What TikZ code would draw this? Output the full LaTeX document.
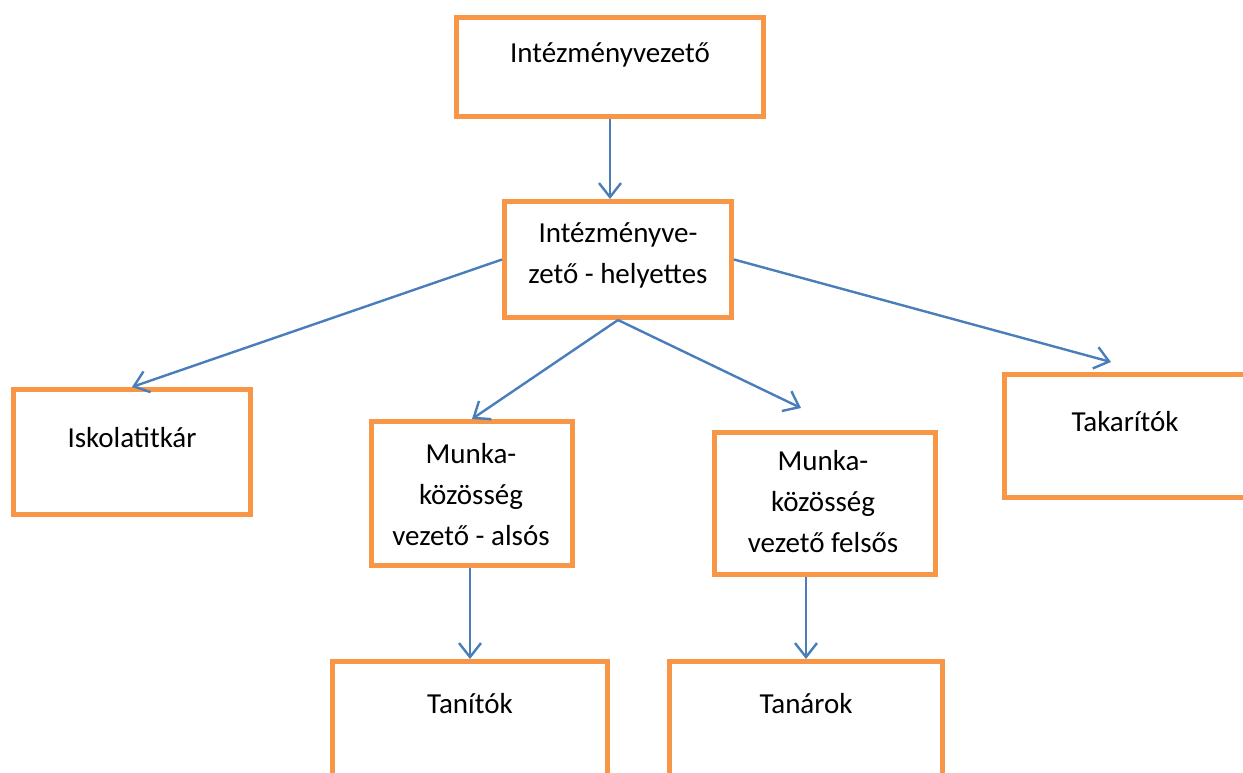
\documentclass[tikz,border=0pt]{standalone}
\usepackage{fontspec}
\setmainfont{Carlito}
\usepackage{tikz}
\usetikzlibrary{positioning, arrows.meta}

\definecolor{boxorange}{HTML}{F79646}
\definecolor{lineblue}{HTML}{4A7EBB}

\begin{document}
\begin{tikzpicture}[x=0.5pt, y=-0.5pt,
        box/.style={draw=boxorange, line width=2.5pt, rectangle, inner sep=0pt},
        txt/.style={anchor=base, align=center, inner sep=0pt, font=\fontsize{14.5}{20.5}\selectfont},
        arr/.style={draw=lineblue, line width=1.2pt, -{Straight Barb[length=7pt, width=11pt, line width=1.2pt]}}]
            \useasboundingbox (0, 0) rectangle (1243, 772);
            \clip (0, 0) rectangle (1243, 772);

            \node[box, minimum width=153.5pt, minimum height=49.5pt] (vezeto) at (610, 67) {};
            \node[box, minimum width=113.5pt, minimum height=58pt] (helyettes) at (618, 259.5) {};
            \node[box, minimum width=118.5pt, minimum height=62.5pt] (titkar) at (132, 452) {};
            \node[box, minimum width=100.5pt, minimum height=72pt] (also) at (472, 493.5) {};
            \node[box, minimum width=110.5pt, minimum height=71pt] (felso) at (825, 503.5) {};
            \node[box, minimum width=127.75pt, minimum height=61.5pt] (takarito) at (1132.25, 436) {};
            \node[box, minimum width=137.5pt, minimum height=64.25pt] (tanito) at (470, 725.75) {};
            \node[box, minimum width=136.5pt, minimum height=64.25pt] (tanar) at (806, 725.75) {};

            % multi-line texts sit on the baseline of their last line
            \node[txt] (vezeto_t) at (610, 62) {Intézményvezető};
            \node[txt] (helyettes_t) at (618, 283) {Intézményve-\\zető - helyettes};
            \node[txt] (titkar_t) at (132, 447) {Iskolatitkár};
            \node[txt] (also_t) at (471, 545) {Munka-\\közösség\\vezető - alsós};
            \node[txt] (felso_t) at (823, 552) {Munka-\\közösség\\vezető felsős};
            \node[txt] (takarito_t) at (1125, 431) {Takarítók};
            \node[txt] (tanito_t) at (470, 713) {Tanítók};
            \node[txt] (tanar_t) at (806, 713) {Tanárok};

            \coordinate (felso_in) at (801, 408);
            \coordinate (takarito_in) at (1111, 362);

            \draw [arr] (vezeto.south) -- (vezeto.south |- helyettes.north);
            \draw [arr] (helyettes.west) -- (titkar.north);
            \draw [arr] (helyettes.south) -- (also.north);
            \draw [arr] (helyettes.south) -- (felso_in);
            \draw [arr] (helyettes.east) -- (takarito_in);
            \draw [arr] (tanito.north |- also.south) -- (tanito.north);
            \draw [arr] (tanar.north |- felso.south) -- (tanar.north);
        \end{tikzpicture}
\end{document}
